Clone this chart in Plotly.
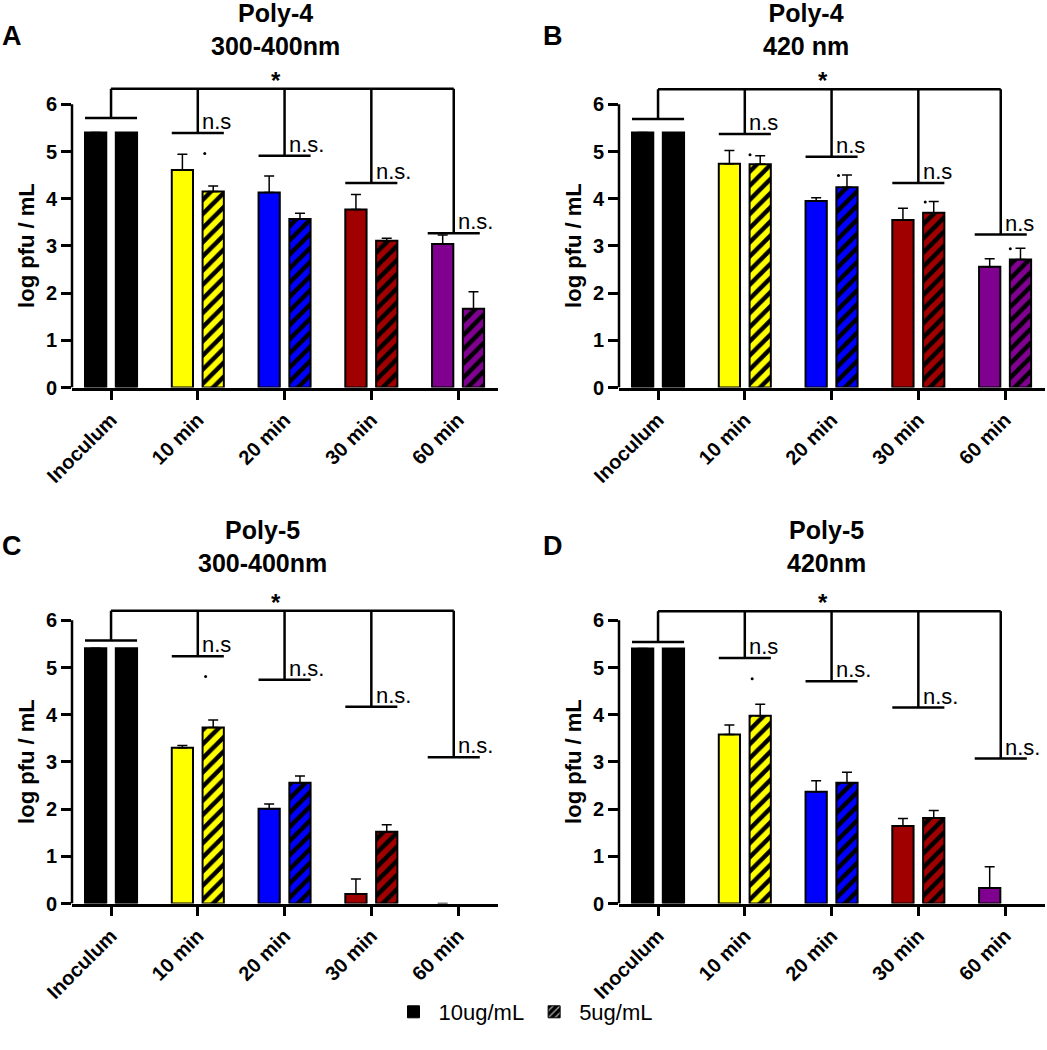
import plotly.graph_objects as go
from plotly.subplots import make_subplots

W, H = 1047, 1050
FONT = "Liberation Sans, Arial, sans-serif"

categories = ["Inoculum", "10 min", "20 min", "30 min", "60 min"]
bar_colors = ["#000000", "#FFFF00", "#0000FF", "#A00000", "#800090"]

panel_letters = ["A", "B", "C", "D"]
panel_titles = [
    "Poly-4<br>300-400nm",
    "Poly-4<br>420 nm",
    "Poly-5<br>300-400nm",
    "Poly-5<br>420nm",
]

# log pfu / mL, 10ug/mL (solid) and 5ug/mL (hatched), with upper SD
a_10 = [5.40, 4.61, 4.13, 3.77, 3.04]
a_10_err = [None, 0.33, 0.35, 0.32, 0.19]
a_5 = [5.40, 4.15, 3.57, 3.11, 1.67]
a_5_err = [None, 0.12, 0.12, 0.05, 0.36]

b_10 = [5.40, 4.74, 3.95, 3.55, 2.56]
b_10_err = [None, 0.28, 0.07, 0.25, 0.17]
b_5 = [5.40, 4.73, 4.24, 3.70, 2.71]
b_5_err = [None, 0.18, 0.26, 0.24, 0.24]

c_10 = [5.41, 3.30, 2.01, 0.20, 0]
c_10_err = [None, 0.05, 0.10, 0.32, None]
c_5 = [5.41, 3.73, 2.56, 1.52, 0]
c_5_err = [None, 0.16, 0.14, 0.15, None]

d_10 = [5.40, 3.58, 2.37, 1.64, 0.33]
d_10_err = [None, 0.20, 0.23, 0.16, 0.45]
d_5 = [5.40, 3.98, 2.56, 1.81, 0]
d_5_err = [None, 0.24, 0.22, 0.16, None]

# significance brackets: top line, level under each group, labels
bracket_tops = [6.33, 6.32, 6.20, 6.19]
bracket_centers = [0, 1, 2, 3, 3.95]
a_levels = [5.71, 5.39, 4.91, 4.33, 3.27]
b_levels = [5.69, 5.37, 4.89, 4.33, 3.24]
c_levels = [5.57, 5.24, 4.74, 4.17, 3.10]
d_levels = [5.54, 5.20, 4.71, 4.15, 3.07]
a_ns = ["n.s", "n.s.", "n.s.", "n.s."]
b_ns = ["n.s", "n.s", "n.s", "n.s"]
c_ns = ["n.s", "n.s.", "n.s.", "n.s."]
d_ns = ["n.s", "n.s.", "n.s.", "n.s."]

# stray dots left in the original export
a_dots_x, a_dots_y = [1.08], [4.96]
b_dots_x, b_dots_y = [1.06, 2.08, 3.08, 4.06], [4.93, 4.49, 3.93, 2.94]
c_dots_x, c_dots_y = [1.09], [4.81]
d_dots_x, d_dots_y = [1.085], [4.76]

panels = [
    (a_10, a_10_err, a_5, a_5_err, a_levels, a_ns, a_dots_x, a_dots_y),
    (b_10, b_10_err, b_5, b_5_err, b_levels, b_ns, b_dots_x, b_dots_y),
    (c_10, c_10_err, c_5, c_5_err, c_levels, c_ns, c_dots_x, c_dots_y),
    (d_10, d_10_err, d_5, d_5_err, d_levels, d_ns, d_dots_x, d_dots_y),
]


def px_x(p):
    return p / W


def px_y(p):
    return 1 - p / H


def upper_err(e):
    # one-sided (upper) SD bar, hidden where there is none
    return dict(
        type="data",
        symmetric=False,
        array=[0 if v is None else v for v in e],
        arrayminus=[0] * len(e),
        visible=any(v is not None for v in e),
        color="black",
        thickness=1.5,
        width=5,
    )


def outline(v):
    # no outline on empty (zero) bars
    return 0 if v == 0 else 2


# plot areas in pixels (x left/right, y bottom), 47.2 px per log unit
col_px = [(72, 498), (619, 1045)]
row_bottom_px = [387.5, 903.5]
y_max = 6.6
unit_px = 47.2

title_x_px = [275, 806, 262, 826]
title_y_px = [29, 546]
letter_x_px = [12, 553]
letter_y_px = [36, 546]

fig = make_subplots(rows=2, cols=2)

bar_w = 0.245
xs = list(range(len(categories)))

for i, (v10, e10, v5, e5, levels, ns, dx, dy) in enumerate(panels):
    row, col = i // 2 + 1, i % 2 + 1

    fig.add_trace(
        go.Bar(
            x=xs,
            y=v10,
            width=bar_w,
            offset=-0.30,
            marker=dict(
                color=bar_colors,
                line=dict(color="black", width=[outline(v) for v in v10]),
            ),
            error_y=upper_err(e10),
            showlegend=False,
            hoverinfo="skip",
        ),
        row=row,
        col=col,
    )
    # hatched bars one per category so the stripes stay black
    for k in xs:
        fig.add_trace(
            go.Bar(
                x=[xs[k]],
                y=[v5[k]],
                width=bar_w,
                offset=0.055,
                marker=dict(
                    color=bar_colors[k],
                    line=dict(color="black", width=outline(v5[k])),
                    pattern=dict(
                        shape="/",
                        fgcolor="black",
                        bgcolor=bar_colors[k],
                        fgopacity=1,
                        fillmode="overlay",
                        size=10,
                        solidity=0.45,
                    ),
                ),
                error_y=upper_err([e5[k]]),
                showlegend=False,
                hoverinfo="skip",
            ),
            row=row,
            col=col,
        )

    # bracket lines
    top = bracket_tops[i]
    bx = [bracket_centers[0], bracket_centers[-1], None]
    by = [top, top, None]
    for c, lv in zip(bracket_centers, levels):
        bx += [c, c, None, c - 0.3, c + 0.3, None]
        by += [top, lv, None, lv, lv, None]
    fig.add_trace(
        go.Scatter(
            x=bx,
            y=by,
            mode="lines",
            line=dict(color="black", width=2.5),
            showlegend=False,
            hoverinfo="skip",
        ),
        row=row,
        col=col,
    )
    fig.add_trace(
        go.Scatter(
            x=dx,
            y=dy,
            mode="markers",
            marker=dict(color="black", size=3),
            showlegend=False,
            hoverinfo="skip",
        ),
        row=row,
        col=col,
    )

    sfx = "" if i == 0 else str(i + 1)
    xref, yref = "x" + sfx, "y" + sfx

    # asterisk and n.s labels
    fig.add_annotation(
        x=1.9, y=top, xref=xref, yref=yref, text="<b>*</b>",
        showarrow=False, xanchor="center", yanchor="bottom", yshift=-7,
        font=dict(size=24, family=FONT, color="black"),
    )
    for c, lv, lab in zip(bracket_centers[1:], levels[1:], ns):
        fig.add_annotation(
            x=c + 0.03, y=lv, xref=xref, yref=yref, text=lab,
            showarrow=False, xanchor="left", yanchor="bottom", yshift=-3,
            font=dict(size=22, family=FONT, color="black"),
        )

    # y axis line only from 0 to 6
    fig.add_shape(
        type="line", xref=xref + " domain", yref=yref,
        x0=0, x1=0, y0=0, y1=6,
        line=dict(color="black", width=2.5),
    )

    # y axis title
    fig.add_annotation(
        x=px_x(col_px[col - 1][0] - 45), y=3, xref="paper", yref=yref,
        text="<b>log pfu / mL</b>", textangle=-90, showarrow=False,
        xanchor="center", yanchor="middle",
        font=dict(size=22, family=FONT, color="black"),
    )

    # panel title and letter
    fig.add_annotation(
        x=px_x(title_x_px[i]), y=px_y(title_y_px[row - 1]),
        xref="paper", yref="paper", text="<b>" + panel_titles[i] + "</b>",
        showarrow=False, align="center", xanchor="center", yanchor="middle",
        font=dict(size=25, family=FONT, color="black"),
    )
    fig.add_annotation(
        x=px_x(letter_x_px[col - 1]), y=px_y(letter_y_px[row - 1]),
        xref="paper", yref="paper", text="<b>" + panel_letters[i] + "</b>",
        showarrow=False, xanchor="center", yanchor="middle",
        font=dict(size=27, family=FONT, color="black"),
    )

    # axes
    x0, x1 = col_px[col - 1]
    yb = row_bottom_px[row - 1]
    fig.update_xaxes(
        domain=[px_x(x0), px_x(x1)],
        range=[-0.45, 4.46],
        automargin=False,
        tickmode="array",
        tickvals=xs,
        ticktext=categories,
        tickangle=-45,
        ticks="outside",
        ticklen=10,
        tickwidth=2.5,
        tickcolor="black",
        showline=True,
        linecolor="black",
        linewidth=2.5,
        showgrid=False,
        zeroline=False,
        tickfont=dict(size=20, family=FONT, color="black", weight="bold"),
        row=row,
        col=col,
    )
    fig.update_yaxes(
        domain=[px_y(yb), px_y(yb - y_max * unit_px)],
        range=[0, y_max],
        automargin=False,
        tickmode="array",
        tickvals=[0, 1, 2, 3, 4, 5, 6],
        ticks="outside",
        ticklen=10,
        tickwidth=2.5,
        tickcolor="black",
        showline=False,
        showgrid=False,
        zeroline=False,
        tickfont=dict(size=20, family=FONT, color="black", weight="bold"),
        row=row,
        col=col,
    )

# legend entries
fig.add_trace(
    go.Bar(
        x=[None], y=[None], name="10ug/mL",
        marker=dict(color="black", line=dict(color="black", width=1)),
    ),
    row=1, col=1,
)
fig.add_trace(
    go.Bar(
        x=[None], y=[None], name="5ug/mL",
        marker=dict(
            color="black",
            line=dict(color="black", width=1),
            pattern=dict(shape="/", fgcolor="#9a9a9a", bgcolor="black",
                         fgopacity=1, fillmode="overlay", size=6,
                         solidity=0.3),
        ),
    ),
    row=1, col=1,
)

fig.update_layout(
    width=W,
    height=H,
    margin=dict(l=0, r=0, t=0, b=0, autoexpand=False),
    barmode="overlay",
    template="none",
    plot_bgcolor="white",
    paper_bgcolor="white",
    font=dict(family=FONT, color="black"),
    legend=dict(
        orientation="h",
        x=0.5,
        xanchor="center",
        y=px_y(1012),
        yanchor="middle",
        bgcolor="rgba(0,0,0,0)",
        font=dict(size=22, family=FONT, color="black"),
        itemwidth=40,
    ),
)

fig.write_html(
    "out.html",
    config={"displayModeBar": False},
    post_script="document.body.style.margin='0';",
)
